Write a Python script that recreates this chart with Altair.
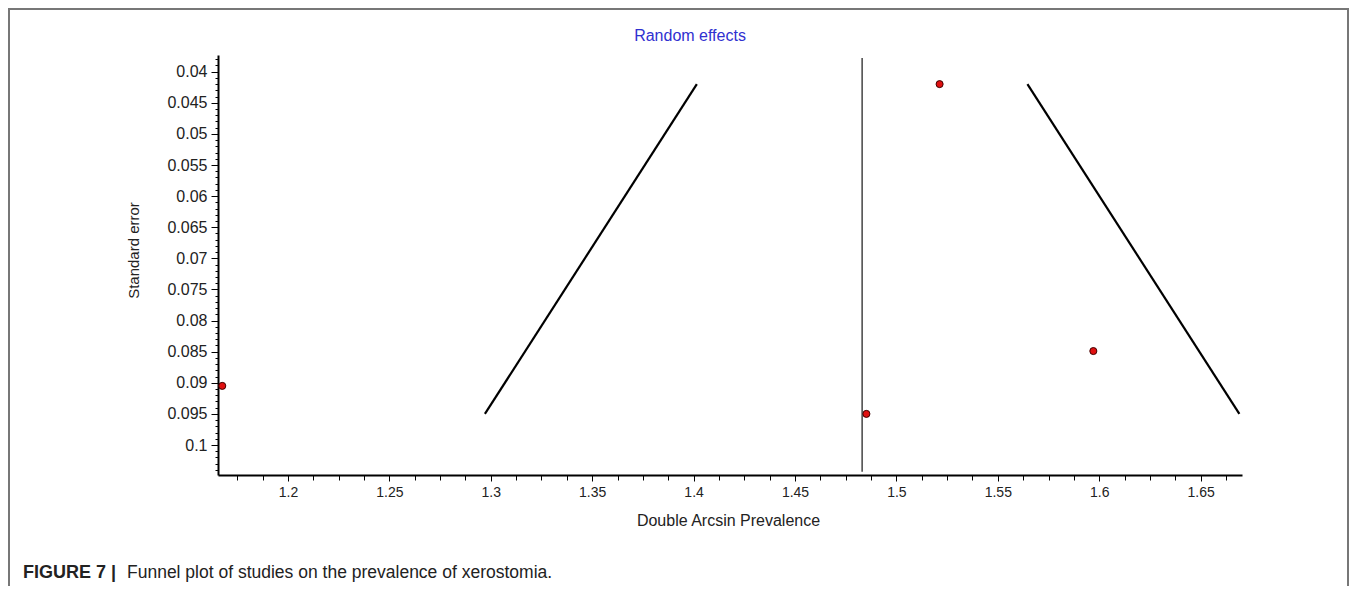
import altair as alt
import pandas as pd

# ---- data ----
study_x = [1.5213, 1.5971, 1.4852, 1.1676]
study_se = [0.042, 0.0849, 0.095, 0.0905]

pooled = [1.4831]
pooled_span = [0.0378, 0.1043]

funnel_se = [0.042, 0.095]
funnel_left = [1.4016, 1.2971]
funnel_right = [1.5646, 1.6691]

x_major = [1.2, 1.25, 1.3, 1.35, 1.4, 1.45, 1.5, 1.55, 1.6, 1.65]
y_major = [0.04, 0.045, 0.05, 0.055, 0.06, 0.065, 0.07, 0.075, 0.08, 0.085, 0.09, 0.095, 0.1]
x_domain = [1.1655, 1.6704]
y_domain = [0.03732, 0.10482]

title_text = "Random effects"
x_title = "Double Arcsin Prevalence"
y_title = "Standard error"
caption_bold = "FIGURE 7 |"
caption_rest = "Funnel plot of studies on the prevalence of xerostomia."

# minor tick positions (4 per major interval on x, 5 per major interval on y)
x_ticks = [round(x_major[0] - 0.025 + 0.0125 * i, 4) for i in range(40)]
y_ticks = [round(y_major[0] - 0.002 + 0.001 * i, 4) for i in range(67)]

FONT = "Liberation Sans"

x_major_test = "abs(datum.value*20 - round(datum.value*20)) < 0.001"
y_major_test = "abs(datum.value*200 - round(datum.value*200)) < 0.001"

x_axis = alt.Axis(
    values=x_ticks,
    labelExpr=f"{x_major_test} ? format(datum.value, '~g') : ''",
    tickSize={"condition": {"test": x_major_test, "value": 6}, "value": 5},
    tickColor="black", tickWidth=1,
    domainColor="black", domainWidth=2,
    labelFont=FONT, labelFontSize=14, labelColor="#222", labelPadding=4,
    labelOverlap=False, labelFlush=False, labelBound=False,
    grid=False,
    title=x_title, titleFont=FONT, titleFontSize=16, titleFontWeight="normal",
    titleColor="#222", titleX=510, titleY=45, titleBaseline="middle", titleAlign="center",
)
y_axis = alt.Axis(
    values=y_ticks,
    labelExpr=f"{y_major_test} ? format(datum.value, '~g') : ''",
    tickSize={"condition": {"test": y_major_test, "value": 7}, "value": 3},
    tickColor="black", tickWidth=1,
    domainColor="black", domainWidth=2,
    labelFont=FONT, labelFontSize=16, labelColor="#222", labelPadding=4,
    labelOverlap=False, labelFlush=False, labelBound=False,
    grid=False,
    title=y_title, titleFont=FONT, titleFontSize=15, titleFontWeight="normal",
    titleColor="#222", titleX=-85, titleY=195, titleAngle=270,
    titleBaseline="middle", titleAlign="center",
)

xs = alt.Scale(domain=x_domain, zero=False, nice=False)
ys = alt.Scale(domain=y_domain, zero=False, nice=False, reverse=True)

X = lambda f: alt.X(f"{f}:Q", scale=xs, axis=x_axis)
Y = lambda f: alt.Y(f"{f}:Q", scale=ys, axis=y_axis)

# funnel lines
funnel_df = pd.DataFrame({
    "x": funnel_left + funnel_right,
    "se": funnel_se + funnel_se,
    "side": ["left"] * len(funnel_se) + ["right"] * len(funnel_se),
})
funnel = alt.Chart(funnel_df).mark_line(color="black", strokeWidth=2.2).encode(
    x=X("x"), y=Y("se"), detail="side:N"
)

# pooled estimate vertical line
pooled_df = pd.DataFrame({"x": pooled, "se": [pooled_span[0]], "se2": [pooled_span[1]]})
vline = alt.Chart(pooled_df).mark_rule(color="#444", strokeWidth=1.5).encode(
    x=X("x"), y=Y("se"), y2="se2:Q"
)

# studies
pts_df = pd.DataFrame({"x": study_x, "se": study_se})
points = alt.Chart(pts_df).mark_point(
    shape="circle", filled=True, size=50, fill="#e01010", stroke="#400000",
    strokeWidth=1, opacity=1,
).encode(x=X("x"), y=Y("se"))

# title and caption text
title = alt.Chart(pd.DataFrame({"t": [title_text]})).mark_text(
    font=FONT, fontSize=16, color="#3030d0", align="center", baseline="middle"
).encode(text="t:N", x=alt.value(472), y=alt.value(-19))

cap1 = alt.Chart(pd.DataFrame({"t": [caption_bold]})).mark_text(
    font=FONT, fontSize=18, fontWeight="bold", color="#222", align="left", baseline="middle"
).encode(text="t:N", x=alt.value(-195), y=alt.value(518))

cap2 = alt.Chart(pd.DataFrame({"t": [caption_rest]})).mark_text(
    font=FONT, fontSize=17.5, color="#222", align="left", baseline="middle"
).encode(text="t:N", x=alt.value(-91), y=alt.value(518))

# outer figure frame
frame_df = pd.DataFrame({"k": [0]})
frame_top = alt.Chart(frame_df).mark_rule(color="#777", strokeWidth=2).encode(
    x=alt.value(-210), x2=alt.value(1130), y=alt.value(-46)
)
frame_left = alt.Chart(frame_df).mark_rule(color="#777", strokeWidth=2).encode(
    x=alt.value(-209), y=alt.value(-47), y2=alt.value(540)
)
frame_right = alt.Chart(frame_df).mark_rule(color="#777", strokeWidth=2).encode(
    x=alt.value(1130), y=alt.value(-47), y2=alt.value(540)
)

chart = alt.layer(
    funnel, vline, points, title, cap1, cap2, frame_top, frame_left, frame_right
).properties(
    width=1024, height=420,
    autosize="none",
    padding={"left": 210, "top": 47, "right": 107, "bottom": 111},
    view=alt.ViewBackground(stroke="transparent", strokeWidth=0),
).configure_view(stroke="transparent", strokeWidth=0).configure(background="white")

chart.save("out.html", embed_options={"renderer": "svg", "actions": False})
